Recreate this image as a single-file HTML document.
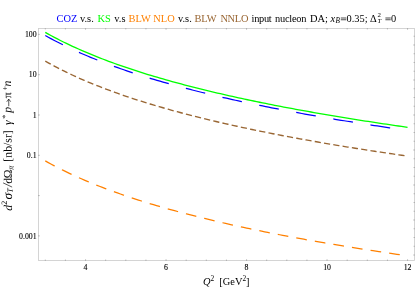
<!DOCTYPE html>
<html><head><meta charset="utf-8"><style>
html,body{margin:0;padding:0;background:#fff;}
svg{display:block;will-change:transform;font-family:"Liberation Serif",serif;}
</style></head><body>
<svg width="415" height="288" viewBox="0 0 415 288">

<rect x="38.5" y="28.5" width="376.0" height="232.0" fill="none" stroke="#cdcdcd" stroke-width="0.85"/>
<g stroke="#9a9a9a" stroke-width="0.7"><line x1="45.30" y1="260.9" x2="45.30" y2="259.59999999999997"/><line x1="45.30" y1="28.1" x2="45.30" y2="29.400000000000002"/><line x1="65.42" y1="260.9" x2="65.42" y2="259.59999999999997"/><line x1="65.42" y1="28.1" x2="65.42" y2="29.400000000000002"/><line x1="85.55" y1="260.9" x2="85.55" y2="259.29999999999995"/><line x1="85.55" y1="28.1" x2="85.55" y2="29.700000000000003"/><line x1="105.67" y1="260.9" x2="105.67" y2="259.59999999999997"/><line x1="105.67" y1="28.1" x2="105.67" y2="29.400000000000002"/><line x1="125.80" y1="260.9" x2="125.80" y2="259.59999999999997"/><line x1="125.80" y1="28.1" x2="125.80" y2="29.400000000000002"/><line x1="145.93" y1="260.9" x2="145.93" y2="259.59999999999997"/><line x1="145.93" y1="28.1" x2="145.93" y2="29.400000000000002"/><line x1="166.05" y1="260.9" x2="166.05" y2="259.29999999999995"/><line x1="166.05" y1="28.1" x2="166.05" y2="29.700000000000003"/><line x1="186.18" y1="260.9" x2="186.18" y2="259.59999999999997"/><line x1="186.18" y1="28.1" x2="186.18" y2="29.400000000000002"/><line x1="206.30" y1="260.9" x2="206.30" y2="259.59999999999997"/><line x1="206.30" y1="28.1" x2="206.30" y2="29.400000000000002"/><line x1="226.43" y1="260.9" x2="226.43" y2="259.59999999999997"/><line x1="226.43" y1="28.1" x2="226.43" y2="29.400000000000002"/><line x1="246.55" y1="260.9" x2="246.55" y2="259.29999999999995"/><line x1="246.55" y1="28.1" x2="246.55" y2="29.700000000000003"/><line x1="266.68" y1="260.9" x2="266.68" y2="259.59999999999997"/><line x1="266.68" y1="28.1" x2="266.68" y2="29.400000000000002"/><line x1="286.80" y1="260.9" x2="286.80" y2="259.59999999999997"/><line x1="286.80" y1="28.1" x2="286.80" y2="29.400000000000002"/><line x1="306.93" y1="260.9" x2="306.93" y2="259.59999999999997"/><line x1="306.93" y1="28.1" x2="306.93" y2="29.400000000000002"/><line x1="327.05" y1="260.9" x2="327.05" y2="259.29999999999995"/><line x1="327.05" y1="28.1" x2="327.05" y2="29.700000000000003"/><line x1="347.18" y1="260.9" x2="347.18" y2="259.59999999999997"/><line x1="347.18" y1="28.1" x2="347.18" y2="29.400000000000002"/><line x1="367.30" y1="260.9" x2="367.30" y2="259.59999999999997"/><line x1="367.30" y1="28.1" x2="367.30" y2="29.400000000000002"/><line x1="387.43" y1="260.9" x2="387.43" y2="259.59999999999997"/><line x1="387.43" y1="28.1" x2="387.43" y2="29.400000000000002"/><line x1="407.55" y1="260.9" x2="407.55" y2="259.29999999999995"/><line x1="407.55" y1="28.1" x2="407.55" y2="29.700000000000003"/><line x1="38.1" y1="34.40" x2="39.7" y2="34.40"/><line x1="38.1" y1="74.70" x2="39.7" y2="74.70"/><line x1="38.1" y1="115.00" x2="39.7" y2="115.00"/><line x1="38.1" y1="155.30" x2="39.7" y2="155.30"/><line x1="38.1" y1="195.60" x2="39.7" y2="195.60"/><line x1="38.1" y1="235.90" x2="39.7" y2="235.90"/><line x1="414.9" y1="36.24" x2="413.59999999999997" y2="36.24"/><line x1="414.9" y1="44.99" x2="413.29999999999995" y2="44.99"/><line x1="414.9" y1="53.74" x2="413.59999999999997" y2="53.74"/><line x1="414.9" y1="62.49" x2="413.59999999999997" y2="62.49"/><line x1="414.9" y1="71.24" x2="413.59999999999997" y2="71.24"/><line x1="414.9" y1="80.00" x2="413.29999999999995" y2="80.00"/><line x1="414.9" y1="88.75" x2="413.59999999999997" y2="88.75"/><line x1="414.9" y1="97.50" x2="413.59999999999997" y2="97.50"/><line x1="414.9" y1="106.25" x2="413.59999999999997" y2="106.25"/><line x1="414.9" y1="115.00" x2="413.29999999999995" y2="115.00"/><line x1="414.9" y1="123.75" x2="413.59999999999997" y2="123.75"/><line x1="414.9" y1="132.50" x2="413.59999999999997" y2="132.50"/><line x1="414.9" y1="141.25" x2="413.59999999999997" y2="141.25"/><line x1="414.9" y1="150.00" x2="413.29999999999995" y2="150.00"/><line x1="414.9" y1="158.76" x2="413.59999999999997" y2="158.76"/><line x1="414.9" y1="167.51" x2="413.59999999999997" y2="167.51"/><line x1="414.9" y1="176.26" x2="413.59999999999997" y2="176.26"/><line x1="414.9" y1="185.01" x2="413.29999999999995" y2="185.01"/><line x1="414.9" y1="193.76" x2="413.59999999999997" y2="193.76"/><line x1="414.9" y1="202.51" x2="413.59999999999997" y2="202.51"/><line x1="414.9" y1="211.26" x2="413.59999999999997" y2="211.26"/><line x1="414.9" y1="220.01" x2="413.29999999999995" y2="220.01"/><line x1="414.9" y1="228.76" x2="413.59999999999997" y2="228.76"/><line x1="414.9" y1="237.51" x2="413.59999999999997" y2="237.51"/><line x1="414.9" y1="246.27" x2="413.59999999999997" y2="246.27"/><line x1="414.9" y1="255.02" x2="413.29999999999995" y2="255.02"/></g>
<polyline fill="none" stroke="#00ff00" stroke-width="1.3" points="45.30,32.40 48.32,34.09 51.34,35.74 54.36,37.35 57.37,38.92 60.39,40.46 63.41,41.97 66.43,43.44 69.45,44.88 72.47,46.29 75.49,47.67 78.51,49.03 81.52,50.36 84.54,51.66 87.56,52.94 90.58,54.20 93.60,55.43 96.62,56.64 99.64,57.83 102.66,59.00 105.67,60.15 108.69,61.28 111.71,62.40 114.73,63.49 117.75,64.57 120.77,65.63 123.79,66.68 126.81,67.70 129.82,68.72 132.84,69.72 135.86,70.70 138.88,71.67 141.90,72.63 144.92,73.58 147.94,74.51 150.96,75.43 153.98,76.33 156.99,77.23 160.01,78.11 163.03,78.98 166.05,79.84 169.07,80.69 172.09,81.53 175.11,82.36 178.12,83.18 181.14,83.99 184.16,84.79 187.18,85.58 190.20,86.37 193.22,87.14 196.24,87.90 199.26,88.66 202.28,89.41 205.29,90.15 208.31,90.88 211.33,91.60 214.35,92.32 217.37,93.03 220.39,93.73 223.41,94.43 226.43,95.12 229.44,95.80 232.46,96.47 235.48,97.14 238.50,97.80 241.52,98.45 244.54,99.10 247.56,99.75 250.57,100.38 253.59,101.01 256.61,101.64 259.63,102.26 262.65,102.87 265.67,103.48 268.69,104.08 271.71,104.68 274.72,105.27 277.74,105.86 280.76,106.44 283.78,107.02 286.80,107.59 289.82,108.16 292.84,108.73 295.86,109.28 298.88,109.84 301.89,110.39 304.91,110.93 307.93,111.47 310.95,112.01 313.97,112.54 316.99,113.07 320.01,113.60 323.03,114.12 326.04,114.63 329.06,115.15 332.08,115.66 335.10,116.16 338.12,116.66 341.14,117.16 344.16,117.65 347.18,118.15 350.19,118.63 353.21,119.12 356.23,119.60 359.25,120.07 362.27,120.55 365.29,121.02 368.31,121.48 371.32,121.95 374.34,122.41 377.36,122.87 380.38,123.32 383.40,123.77 386.42,124.22 389.44,124.67 392.46,125.11 395.47,125.55 398.49,125.99 401.51,126.42 404.53,126.86 407.55,127.28"/>
<polyline fill="none" stroke="#0000ff" stroke-width="1.25" stroke-dasharray="19.9 17.75" points="45.30,35.50 48.32,37.19 51.34,38.84 54.36,40.45 57.37,42.02 60.39,43.56 63.41,45.07 66.43,46.54 69.45,47.98 72.47,49.39 75.49,50.77 78.51,52.13 81.52,53.46 84.54,54.76 87.56,56.04 90.58,57.30 93.60,58.53 96.62,59.74 99.64,60.93 102.66,62.10 105.67,63.25 108.69,64.38 111.71,65.50 114.73,66.59 117.75,67.67 120.77,68.73 123.79,69.78 126.81,70.80 129.82,71.82 132.84,72.82 135.86,73.80 138.88,74.77 141.90,75.73 144.92,76.68 147.94,77.61 150.96,78.53 153.98,79.43 156.99,80.33 160.01,81.21 163.03,82.08 166.05,82.94 169.07,83.79 172.09,84.63 175.11,85.46 178.12,86.28 181.14,87.09 184.16,87.89 187.18,88.68 190.20,89.47 193.22,90.24 196.24,91.00 199.26,91.76 202.28,92.51 205.29,93.25 208.31,93.98 211.33,94.70 214.35,95.42 217.37,96.13 220.39,96.83 223.41,97.53 226.43,98.22 229.44,98.90 232.46,99.57 235.48,100.24 238.50,100.90 241.52,101.55 244.54,102.20 247.56,102.85 250.57,103.48 253.59,104.11 256.61,104.74 259.63,105.36 262.65,105.97 265.67,106.58 268.69,107.18 271.71,107.78 274.72,108.37 277.74,108.96 280.76,109.54 283.78,110.12 286.80,110.69 289.82,111.26 292.84,111.83 295.86,112.38 298.88,112.94 301.89,113.49 304.91,114.03 307.93,114.57 310.95,115.11 313.97,115.64 316.99,116.17 320.01,116.70 323.03,117.22 326.04,117.73 329.06,118.25 332.08,118.76 335.10,119.26 338.12,119.76 341.14,120.26 344.16,120.75 347.18,121.25 350.19,121.73 353.21,122.22 356.23,122.70 359.25,123.17 362.27,123.65 365.29,124.12 368.31,124.58 371.32,125.05 374.34,125.51 377.36,125.97 380.38,126.42 383.40,126.87 386.42,127.32 389.44,127.77 392.46,128.21 395.47,128.65 398.49,129.09 401.51,129.52 404.53,129.96 407.55,130.38"/>
<polyline fill="none" stroke="#996633" stroke-width="1.35" stroke-dasharray="6.2 3.212" points="45.30,61.20 48.30,62.88 51.29,64.51 54.29,66.11 57.28,67.68 60.28,69.20 63.27,70.70 66.27,72.16 69.26,73.59 72.26,74.99 75.25,76.37 78.25,77.71 81.24,79.03 84.24,80.33 87.23,81.60 90.23,82.85 93.22,84.08 96.22,85.28 99.21,86.47 102.21,87.63 105.21,88.77 108.20,89.90 111.20,91.01 114.19,92.10 117.19,93.17 120.18,94.23 123.18,95.27 126.17,96.29 129.17,97.30 132.16,98.29 135.16,99.27 138.15,100.24 141.15,101.19 144.14,102.13 147.14,103.06 150.13,103.98 153.13,104.88 156.13,105.77 159.12,106.65 162.12,107.52 165.11,108.38 168.11,109.22 171.10,110.06 174.10,110.89 177.09,111.70 180.09,112.51 183.08,113.31 186.08,114.10 189.07,114.87 192.07,115.65 195.06,116.41 198.06,117.16 201.05,117.91 204.05,118.64 207.04,119.37 210.04,120.10 213.04,120.81 216.03,121.52 219.03,122.22 222.02,122.91 225.02,123.60 228.01,124.27 231.01,124.95 234.00,125.61 237.00,126.27 239.99,126.92 242.99,127.57 245.98,128.21 248.98,128.85 251.97,129.48 254.97,130.10 257.96,130.72 260.96,131.33 263.95,131.94 266.95,132.54 269.95,133.13 272.94,133.72 275.94,134.31 278.93,134.89 281.93,135.47 284.92,136.04 287.92,136.61 290.91,137.17 293.91,137.72 296.90,138.28 299.90,138.83 302.89,139.37 305.89,139.91 308.88,140.44 311.88,140.98 314.87,141.50 317.87,142.03 320.86,142.55 323.86,143.06 326.86,143.57 329.85,144.08 332.85,144.58 335.84,145.08 338.84,145.58 341.83,146.07 344.83,146.56 347.82,147.05 350.82,147.53 353.81,148.01 356.81,148.49 359.80,148.96 362.80,149.43 365.79,149.90 368.79,150.36 371.78,150.82 374.78,151.28 377.78,151.73 380.77,152.18 383.77,152.63 386.76,153.07 389.76,153.52 392.75,153.95 395.75,154.39 398.74,154.82 401.74,155.26 404.73,155.68"/>
<polyline fill="none" stroke="#ff8000" stroke-width="1.25" stroke-dasharray="10.7 8.13" points="45.30,160.90 48.31,162.58 51.31,164.22 54.32,165.83 57.32,167.40 60.33,168.93 63.33,170.43 66.34,171.89 69.34,173.33 72.35,174.73 75.35,176.11 78.36,177.46 81.36,178.79 84.37,180.09 87.37,181.36 90.38,182.61 93.39,183.84 96.39,185.05 99.40,186.24 102.40,187.40 105.41,188.55 108.41,189.68 111.42,190.79 114.42,191.88 117.43,192.96 120.43,194.01 123.44,195.06 126.44,196.08 129.45,197.09 132.45,198.09 135.46,199.07 138.47,200.04 141.47,201.00 144.48,201.94 147.48,202.87 150.49,203.78 153.49,204.69 156.50,205.58 159.50,206.46 162.51,207.33 165.51,208.19 168.52,209.04 171.52,209.88 174.53,210.70 177.53,211.52 180.54,212.33 183.55,213.13 186.55,213.92 189.56,214.70 192.56,215.47 195.57,216.23 198.57,216.99 201.58,217.74 204.58,218.47 207.59,219.21 210.59,219.93 213.60,220.64 216.60,221.35 219.61,222.05 222.61,222.75 225.62,223.43 228.63,224.11 231.63,224.79 234.64,225.45 237.64,226.11 240.65,226.77 243.65,227.41 246.66,228.06 249.66,228.69 252.67,229.32 255.67,229.94 258.68,230.56 261.68,231.18 264.69,231.78 267.69,232.39 270.70,232.98 273.71,233.57 276.71,234.16 279.72,234.74 282.72,235.32 285.73,235.89 288.73,236.46 291.74,237.02 294.74,237.58 297.75,238.13 300.75,238.68 303.76,239.23 306.76,239.77 309.77,240.30 312.77,240.83 315.78,241.36 318.79,241.89 321.79,242.41 324.80,242.92 327.80,243.43 330.81,243.94 333.81,244.45 336.82,244.95 339.82,245.44 342.83,245.94 345.83,246.43 348.84,246.91 351.84,247.40 354.85,247.88 357.85,248.35 360.86,248.83 363.87,249.30 366.87,249.76 369.88,250.23 372.88,250.69 375.89,251.14 378.89,251.60 381.90,252.05 384.90,252.50 387.91,252.94 390.91,253.39 393.92,253.83 396.92,254.26 399.93,254.70 402.93,255.13 405.94,255.56"/>
<g font-size="7.8" fill="#000" stroke="#000" stroke-width="0.12"><text x="85.55" y="269.6" text-anchor="middle">4</text><text x="166.05" y="269.6" text-anchor="middle">6</text><text x="246.55" y="269.6" text-anchor="middle">8</text><text x="327.05" y="269.6" text-anchor="middle">10</text><text x="407.55" y="269.6" text-anchor="middle">12</text><text x="36.6" y="37.00" text-anchor="end">100</text><text x="36.6" y="77.30" text-anchor="end">10</text><text x="36.6" y="117.60" text-anchor="end">1</text><text x="36.6" y="157.90" text-anchor="end">0.1</text><text x="36.6" y="238.50" text-anchor="end">0.001</text></g>
<text x="56.6" y="21.7" font-size="10.4" fill="#0000ff">COZ</text><text x="80.0" y="21.7" font-size="10.4" fill="#000">v.s.</text><text x="97.5" y="21.7" font-size="10.4" fill="#00ff00">KS</text><text x="114.3" y="21.7" font-size="10.4" fill="#000">v.s</text><text x="128.6" y="21.7" font-size="10.4" fill="#ff8000">BLW NLO</text><text x="178.0" y="21.7" font-size="10.4" fill="#000">v.s.</text><text x="194.5" y="21.7" font-size="10.4" fill="#996633" letter-spacing="-0.15">BLW</text><text x="220.4" y="21.7" font-size="10.4" fill="#996633" letter-spacing="-0.28">NNLO</text><text x="251.6" y="21.7" font-size="10.4" fill="#000" letter-spacing="-0.3">input</text><text x="275.0" y="21.7" font-size="10.4" fill="#000" letter-spacing="-0.25">nucleon</text><text x="310.0" y="21.7" font-size="10.4" fill="#000">DA;</text><text x="330.6" y="21.7" font-size="10.4" fill="#000" font-style="italic">x</text><text x="335.5" y="23.4" font-size="7.2" fill="#000" font-style="italic">B</text><text x="346.5" y="21.7" font-size="10.4" fill="#000">0.35;</text><text x="370.0" y="21.7" font-size="10.4" fill="#000">Δ</text><text x="377.5" y="17.1" font-size="6.9" fill="#000">2</text><text x="377.4" y="23.3" font-size="6.7" fill="#000" font-style="italic">T</text><text x="391.0" y="21.7" font-size="10.4" fill="#000">0</text><path d="M340.8,18.0 H346.3 M340.8,19.75 H346.3 M385.4,18.0 H390.7 M385.4,19.75 H390.7" stroke="#000" stroke-width="0.7" fill="none"/>
<text x="202.9" y="284.6" font-size="10.4" xml:space="preserve"><tspan font-style="italic">Q</tspan><tspan font-size="7.4" dy="-3.8">2</tspan><tspan dy="3.8">  [GeV</tspan><tspan font-size="7.4" dy="-3.8">2</tspan><tspan dy="3.8">]</tspan></text>
<g transform="translate(12.1,210.7) rotate(-90.45)"><text x="0.0" y="0" font-size="11.8" font-style="italic">d</text><text x="6.1" y="-5.0" font-size="8.2">2</text><text x="11.3" y="0" font-size="13.4" font-style="italic">σ</text><text x="18.0" y="0.8" font-size="8.2" font-style="italic">T</text><text x="27.0" y="0" font-size="11.8">d</text><text x="32.4" y="0" font-size="11.8">Ω</text><text x="41.0" y="1.6" font-size="8.2" font-style="italic">π</text><text x="49.0" y="0" font-size="11.8">[nb/sr]</text><text x="85.8" y="0" font-size="11.8" font-style="italic">γ</text><text x="91.9" y="-3.6" font-size="8.2">*</text><text x="97.9" y="0" font-size="11.8" font-style="italic">p</text><text x="112.4" y="0" font-size="11.8">π</text><text x="120.2" y="-3.5" font-size="8.2">+</text><text x="124.2" y="0" font-size="11.8" font-style="italic">n</text><path d="M23.6,0.2 L27.9,-8.8 M104.5,-2.5 H111.5 M109,-4.5 L111.6,-2.5 L109,-0.5" stroke="#000" stroke-width="0.65" fill="none"/></g>
</svg>
</body></html>
